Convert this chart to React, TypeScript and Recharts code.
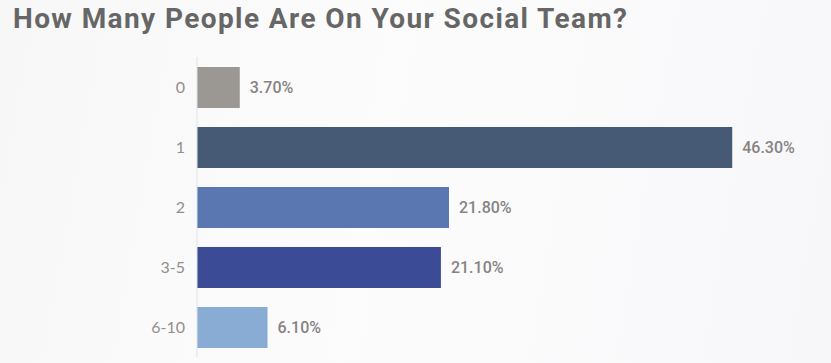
import { Bar, BarChart, Cell, LabelList, XAxis, YAxis } from "recharts";

const teamSizes = ["0", "1", "2", "3-5", "6-10"];
const sharePct = [3.7, 46.3, 21.8, 21.1, 6.1];
const barColors = ["#9b9894", "#465a75", "#5b77b1", "#3b4b95", "#88acd4"];

const data = teamSizes.map((size, i) => ({ size, pct: sharePct[i] }));

export default function App() {
  return (
    <div
      style={{
        position: "absolute",
        left: 0,
        top: 0,
        width: 831,
        height: 363,
        background: "linear-gradient(100deg, #f7f7f8 0%, #fcfcfd 45%, #f7f7f9 100%)",
        overflow: "hidden",
      }}
    >
      <div
        style={{
          position: "absolute",
          left: 13,
          top: 2,
          fontFamily: "Roboto, 'Liberation Sans', sans-serif",
          fontWeight: 700,
          fontSize: 28,
          letterSpacing: 1.4,
          color: "#666666",
          whiteSpace: "nowrap",
        }}
      >
        How Many People Are On Your Social Team?
      </div>
      <BarChart
        width={831}
        height={363}
        data={data}
        layout="vertical"
        margin={{ top: 57, right: 56, bottom: 6, left: 0 }}
        style={{ position: "absolute", left: 0, top: 0 }}
      >
        <XAxis type="number" domain={[0, 50]} hide />
        <YAxis
          type="category"
          dataKey="size"
          width={197}
          tickSize={0}
          tickMargin={12}
          tickLine={false}
          axisLine={{ stroke: "#e2e2e4" }}
          tick={{ fill: "#948e89", fontSize: 16, fontFamily: "Lato, 'Open Sans', sans-serif" }}
        />
        <Bar dataKey="pct" barSize={41} isAnimationActive={false}>
          {data.map((d, i) => (
            <Cell key={d.size} fill={barColors[i]} />
          ))}
          <LabelList
            dataKey="pct"
            position="right"
            offset={10}
            formatter={(v: number) => `${v.toFixed(2)}%`}
            fill="#878381"
            fontSize={16}
            fontWeight={500}
            fontFamily="Roboto, sans-serif"
          />
        </Bar>
      </BarChart>
    </div>
  );
}
